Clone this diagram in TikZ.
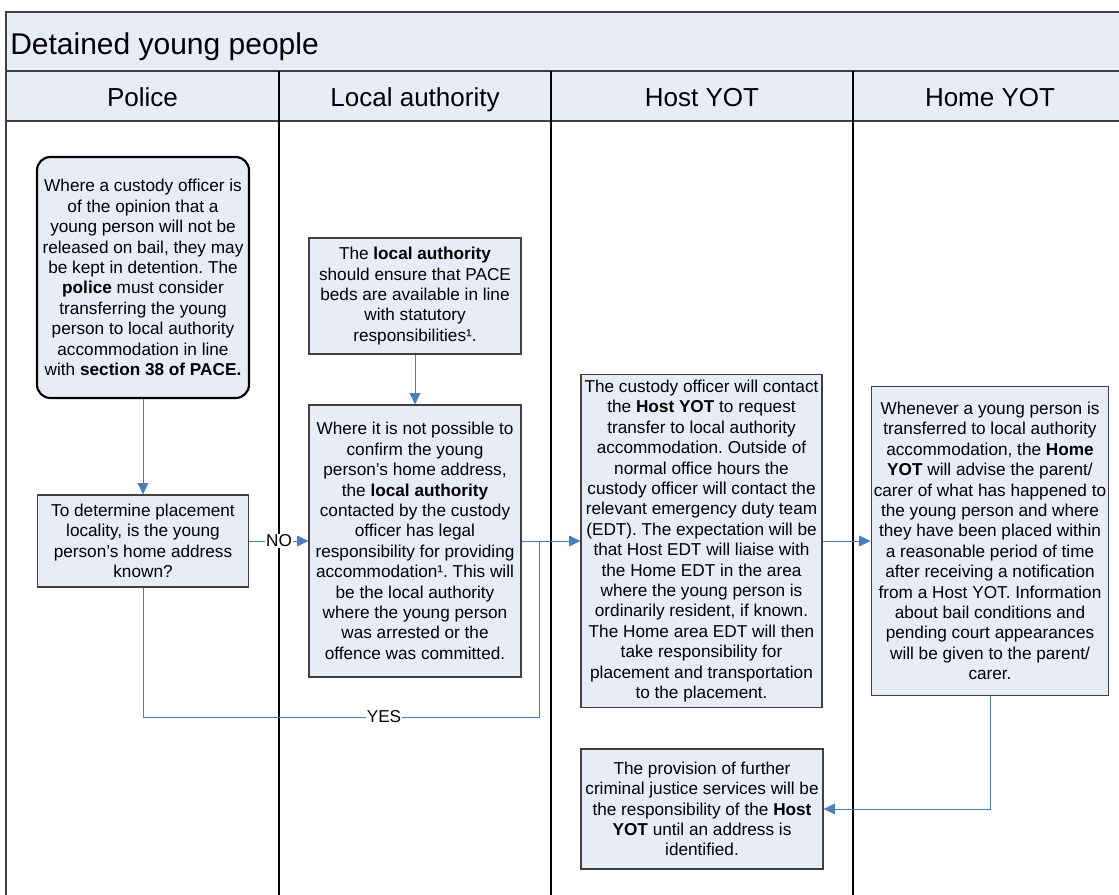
\documentclass[tikz,border=0pt]{standalone}
\usepackage{fontspec}
\setmainfont{Liberation Sans}
\usepackage{xcolor}
\usetikzlibrary{arrows.meta}
\frenchspacing

\definecolor{lanefill}{HTML}{E7ECF6}
\definecolor{flowblue}{HTML}{4A7EBB}
\definecolor{edgegrey}{HTML}{404040}

\begin{document}
\begin{tikzpicture}[x=0.75pt,y=-0.75pt,
		box/.style={draw=edgegrey, line width=0.9pt, fill=lanefill, align=center, inner sep=2pt, font=\fontsize{12.9}{15.3}\selectfont},
		startbox/.style={box, draw=black, line width=1.6pt, rounded corners=10pt},
		flow/.style={draw=flowblue, line width=0.75pt},
		arrowline/.style={flow, -{Triangle[length=8.5pt,width=8pt]}},
		answer/.style={fill=white, inner sep=0.5pt, font=\fontsize{12.9}{15.3}\selectfont},
		header/.style={anchor=base, font=\fontsize{19.5}{23}\selectfont}]
		\path[use as bounding box, clip] (0,0) rectangle (1119,894);
		% lanes
		\fill[lanefill] (6,12) rectangle (1130,121);
		\draw[edgegrey, line width=1.5pt] (6,71) -- (1130,71) (6,121) -- (1130,121);
		\draw[edgegrey, line width=1.2pt] (6,900) -- (6,12) -- (1130,12);
		\draw[black, line width=1pt] (279,71) -- (279,900) (551,71) -- (551,900) (853,71) -- (853,900);
		\draw
		node[anchor=base west, inner sep=0pt, font=\fontsize{22.5}{27}\selectfont] at (10,54) (title) {Detained young people}
		node[header] at (142.5,106) (police) {Police}
		node[header] at (415,106) (authority) {Local authority}
		node[header] at (702,106) (host) {Host YOT}
		node[header] at (990,106) (home) {Home YOT}
		node[startbox, minimum width=159pt, minimum height=180.75pt] at (143,277.5) (custody) {Where a custody officer is\\ of the opinion that a\\ young person will not be\\ released on bail, they may\\ be kept in detention. The\\ \textbf{police} must consider\\ transferring the young\\ person to local authority\\ accommodation in line\\ with \textbf{section 38 of PACE.}}
		node[box, minimum width=159pt, minimum height=87pt] at (415,296) (beds) {The \textbf{local authority}\\ should ensure that PACE\\ beds are available in line\\ with statutory\\ responsibilities¹.}
		node[box, minimum width=158.25pt, minimum height=69pt] at (143,541) (question) {To determine placement\\ locality, is the young\\ person’s home address\\ known?}
		node[box, minimum width=159pt, minimum height=204pt] at (415,541) (noaddress) {Where it is not possible to\\ confirm the young\\ person’s home address,\\ the \textbf{local authority}\\ contacted by the custody\\ officer has legal\\ responsibility for providing\\ accommodation¹. This will\\ be the local authority\\ where the young person\\ was arrested or the\\ offence was committed.}
		node[box, minimum width=180.75pt, minimum height=249.75pt] at (701.5,541) (hostyot) {The custody officer will contact\\ the \textbf{Host YOT} to request\\ transfer to local authority\\ accommodation. Outside of\\ normal office hours the\\ custody officer will contact the\\ relevant emergency duty team\\ (EDT). The expectation will be\\ that Host EDT will liaise with\\ the Home EDT in the area\\ where the young person is\\ ordinarily resident, if known.\\ The Home area EDT will then\\ take responsibility for\\ placement and transportation\\ to the placement.}
		node[box, minimum width=177pt, minimum height=231.75pt] at (990,541) (homeyot) {Whenever a young person is\\ transferred to local authority\\ accommodation, the \textbf{Home}\\ \textbf{YOT} will advise the parent/\\ carer of what has happened to\\ the young person and where\\ they have been placed within\\ a reasonable period of time\\ after receiving a notification\\ from a Host YOT. Information\\ about bail conditions and\\ pending court appearances\\ will be given to the parent/\\ carer.}
		node[box, minimum width=181.5pt, minimum height=90pt] at (702,809) (further) {The provision of further\\ criminal justice services will be\\ the responsibility of the \textbf{Host}\\ \textbf{YOT} until an address is\\ identified.}
		node[answer] at (279,541) (no) {NO}
		node[answer] at (384,717) (yes) {YES};
		\coordinate (join) at (539,541);
		% connectors
		\draw[arrowline] (custody) -- (question);
		\draw[arrowline] (beds) -- (noaddress);
		\draw[flow] (question) -- (no);
		\draw[arrowline] (no) -- (noaddress);
		\draw[arrowline] (noaddress) -- (hostyot);
		\draw[flow] (question) |- (yes);
		\draw[flow] (yes) -| (join);
		\draw[arrowline] (hostyot) -- (homeyot);
		\draw[arrowline] (homeyot) |- (further);
	\end{tikzpicture}
\end{document}
